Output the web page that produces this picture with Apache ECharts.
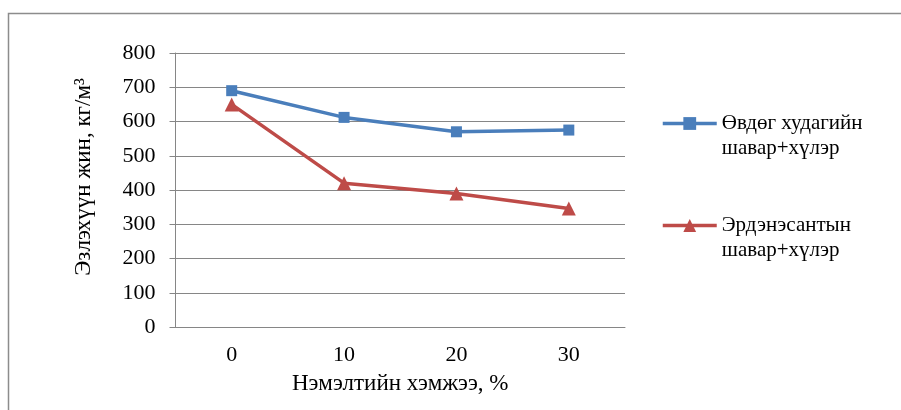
<!DOCTYPE html>
<html>
<head>
<meta charset="utf-8">
<script src="https://cdn.jsdelivr.net/npm/echarts@6/dist/echarts.min.js"></script>
<style>
  html, body { margin: 0; padding: 0; background: #fff; }
  #chart { width: 901px; height: 410px; }
</style>
</head>
<body>
<div id="chart"></div>
<script>
// Additive amount, %
const categories = ['0', '10', '20', '30'];
// Bulk density, kg/m3
const seriesOvdog = [690, 612, 570, 575];
const seriesErdenesant = [650, 420, 390, 346];
const nameOvdog = 'Өвдөг худагийн\nшавар+хүлэр';
const nameErdenesant = 'Эрдэнэсантын\nшавар+хүлэр';

const FONT = '"Liberation Serif", "Times New Roman", serif';
const BLUE = '#4A7EBB';
const RED = '#BE4B48';
const GRID = '#868686';

const chart = echarts.init(document.getElementById('chart'), null, { renderer: 'canvas' });

// a blank leading line keeps the first text line level with the legend icon
const legendCommon = {
  orient: 'vertical',
  padding: 0,
  itemWidth: 54,
  itemHeight: 16,
  formatter: name => ' \n' + name,
  lineStyle: { width: 3.5 },
  textStyle: { fontFamily: FONT, fontSize: 21, color: '#000', lineHeight: 25 }
};

chart.setOption({
  animation: false,
  backgroundColor: '#fff',
  graphic: [{
    type: 'rect',
    silent: true,
    shape: { x: 8.5, y: 13.5, width: 1200, height: 1200 },
    style: { fill: 'none', stroke: '#8c8c8c', lineWidth: 1.5 }
  }],
  grid: { left: 175.5, right: 276, top: 53, bottom: 83 },
  legend: [
    Object.assign({ data: [nameOvdog], left: 661, top: 86 }, legendCommon),
    Object.assign({ data: [nameErdenesant], left: 661, top: 188 }, legendCommon)
  ],
  xAxis: {
    type: 'category',
    data: categories,
    boundaryGap: true,
    name: 'Нэмэлтийн хэмжээ, %',
    nameLocation: 'middle',
    nameGap: 45,
    nameTextStyle: { fontFamily: FONT, fontSize: 23, color: '#000' },
    axisLine: { lineStyle: { color: GRID, width: 1 } },
    axisTick: { show: false },
    axisLabel: { fontFamily: FONT, fontSize: 22, color: '#000', margin: 17 }
  },
  yAxis: {
    type: 'value',
    min: 0, max: 800, interval: 100,
    name: 'Эзлэхүүн жин, кг/м³',
    nameLocation: 'middle',
    nameGap: 80,
    // extra space on the start side lifts the rotated title slightly above the grid centre
    nameTextStyle: { fontFamily: FONT, fontSize: 23, color: '#000', padding: [0, 0, 0, 26] },
    axisLine: { show: true, lineStyle: { color: GRID, width: 1 } },
    axisTick: { show: true, length: 6, lineStyle: { color: GRID } },
    axisLabel: { fontFamily: FONT, fontSize: 22, color: '#000', margin: 20 },
    splitLine: { lineStyle: { color: GRID, width: 1 } }
  },
  series: [
    {
      name: nameOvdog,
      type: 'line',
      data: seriesOvdog,
      symbol: 'rect',
      symbolSize: 11,
      lineStyle: { color: BLUE, width: 3.5 },
      itemStyle: { color: BLUE }
    },
    {
      name: nameErdenesant,
      type: 'line',
      data: seriesErdenesant,
      symbol: 'triangle',
      symbolSize: 14,
      lineStyle: { color: RED, width: 3.5 },
      itemStyle: { color: RED }
    }
  ]
});
</script>
</body>
</html>
